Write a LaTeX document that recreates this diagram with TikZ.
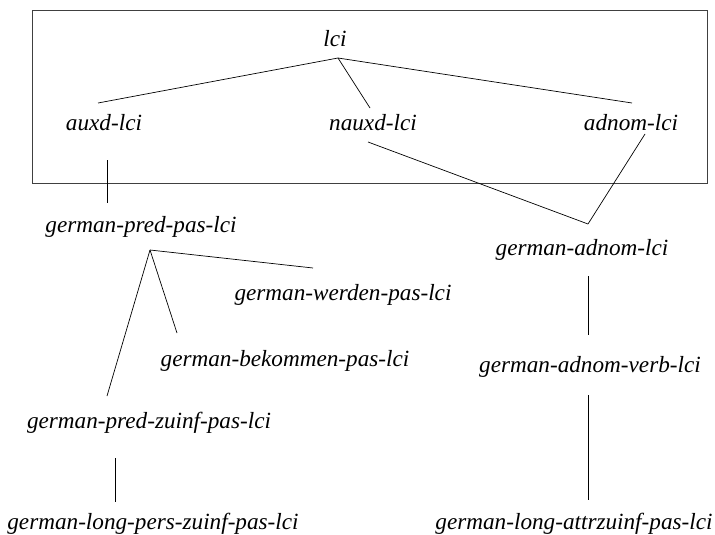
\documentclass[tikz,border=0pt]{standalone}
\usepackage{fontspec}
\setmainfont{Liberation Serif}
\begin{document}
\begin{tikzpicture}[x=1pt,y=-1pt,
  lbl/.style={font=\fontsize{23.2}{27}\selectfont\itshape, inner sep=0pt, anchor=base},
  edge/.style={draw=black, line width=0.7pt}]
\useasboundingbox (0,0) rectangle (715,535);
\draw[line width=0.8pt, draw=black!75] (32,10) rectangle (707,183);
\node[lbl] (lci)   at (335,47)  {lci};
\node[lbl] (auxd)  at (104,130) {auxd-lci};
\node[lbl] (nauxd) at (373,130) {nauxd-lci};
\node[lbl] (adnom) at (631,130) {adnom-lci};
\node[lbl] (gpred) at (141,232) {german-pred-pas-lci};
\node[lbl] (gadnom) at (582,255) {german-adnom-lci};
\node[lbl] (gwerden) at (343,300) {german-werden-pas-lci};
\node[lbl] (gbek) at (285,366) {german-bekommen-pas-lci};
\node[lbl] (gadverb) at (590,372) {german-adnom-verb-lci};
\node[lbl] (gzuinf) at (149,428) {german-pred-zuinf-pas-lci};
\node[lbl] (glpers) at (153,529) {german-long-pers-zuinf-pas-lci};
\node[lbl] (glattr) at (574,529) {german-long-attrzuinf-pas-lci};
\coordinate (lciapex) at ([xshift=3pt,yshift=-11pt]lci.base);
\coordinate (predapex) at ([xshift=9pt,yshift=-18pt]gpred.base);
\coordinate (adnomjoin) at ([xshift=6pt,yshift=31pt]gadnom.base);
\draw[edge] (lciapex) -- ([xshift=-6pt,yshift=27pt]auxd.base);
\draw[edge] (lciapex) -- ([xshift=-3pt,yshift=22pt]nauxd.base);
\draw[edge] (lciapex) -- ([xshift=1pt,yshift=27pt]adnom.base);
\draw[edge] ([xshift=3pt,yshift=-30pt]auxd.base) -- ([xshift=-34pt,yshift=29pt]gpred.base);
\draw[edge] ([xshift=-5pt,yshift=-12pt]nauxd.base) -- (adnomjoin);
\draw[edge] ([xshift=14pt,yshift=-4pt]adnom.base) -- (adnomjoin);
\draw[edge] (predapex) -- ([xshift=-30pt,yshift=32pt]gwerden.base);
\draw[edge] (predapex) -- ([xshift=-108pt,yshift=33pt]gbek.base);
\draw[edge] (predapex) -- ([xshift=-42pt,yshift=32pt]gzuinf.base);
\draw[edge] ([xshift=6pt,yshift=-21pt]gadnom.base) -- ([xshift=-2pt,yshift=37pt]gadverb.base);
\draw[edge] ([xshift=-2pt,yshift=-23pt]gadverb.base) -- ([xshift=14pt,yshift=29pt]glattr.base);
\draw[edge] ([xshift=-34pt,yshift=-30pt]gzuinf.base) -- ([xshift=-38pt,yshift=27pt]glpers.base);
\end{tikzpicture}
\end{document}
